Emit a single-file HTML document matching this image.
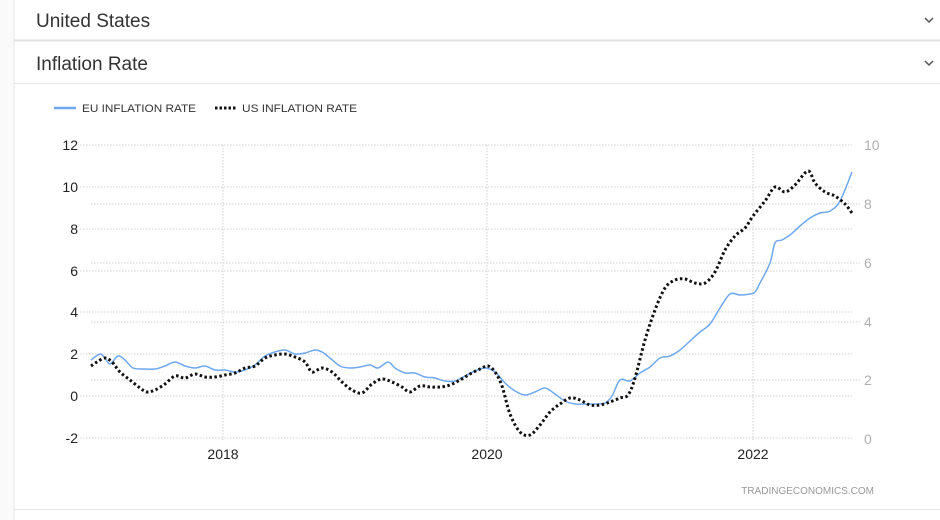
<!DOCTYPE html>
<html><head><meta charset="utf-8"><style>
html,body{margin:0;padding:0;background:#fff;width:940px;height:520px;overflow:hidden;font-family:"Liberation Sans",sans-serif}
</style></head><body>
<svg width="940" height="520" xmlns="http://www.w3.org/2000/svg" style="position:absolute;left:0;top:0">
<rect x="0" y="0" width="14" height="520" fill="#fafafa"/>
<line x1="14" y1="0" x2="14" y2="520" stroke="#e6e6e6"/>
<line x1="14" y1="40.5" x2="940" y2="40.5" stroke="#e2e2e2" stroke-width="2"/>
<line x1="14" y1="83.5" x2="940" y2="83.5" stroke="#e6e6e6"/>
<line x1="14" y1="509.5" x2="940" y2="509.5" stroke="#e6e6e6"/>
<text x="36" y="27" font-size="19" fill="#333">United States</text>
<text x="36" y="70" font-size="19" fill="#333">Inflation Rate</text>
<path d="M925 18 l4 4 l4 -4" stroke="#555" fill="none" stroke-width="1.5"/>
<path d="M925 61 l4 4 l4 -4" stroke="#555" fill="none" stroke-width="1.5"/>
<line x1="54" y1="108" x2="76" y2="108" stroke="#6fa8f0" stroke-width="2.5"/>
<text x="82" y="112" font-size="11" fill="#333" textLength="114" lengthAdjust="spacingAndGlyphs">EU INFLATION RATE</text>
<line x1="215" y1="108" x2="236" y2="108" stroke="#111" stroke-width="3" stroke-dasharray="2.5,2"/>
<text x="242" y="112" font-size="11" fill="#333" textLength="115" lengthAdjust="spacingAndGlyphs">US INFLATION RATE</text>
<g stroke="#d0d0d0" stroke-dasharray="1.5,1.5" stroke-width="1">
<line x1="80" y1="145" x2="852" y2="145"/><line x1="80" y1="187" x2="852" y2="187"/><line x1="80" y1="229" x2="852" y2="229"/><line x1="80" y1="271" x2="852" y2="271"/><line x1="80" y1="312" x2="852" y2="312"/><line x1="80" y1="354" x2="852" y2="354"/><line x1="80" y1="396" x2="852" y2="396"/><line x1="80" y1="438" x2="852" y2="438"/>
<line x1="91" y1="204" x2="860" y2="204"/><line x1="91" y1="263" x2="860" y2="263"/><line x1="91" y1="322" x2="860" y2="322"/><line x1="91" y1="380" x2="860" y2="380"/>
<line x1="223" y1="145" x2="223" y2="440"/><line x1="487" y1="145" x2="487" y2="440"/><line x1="753" y1="145" x2="753" y2="440"/>
</g>
<g font-size="14" fill="#222" text-anchor="end">
<text x="78" y="150">12</text><text x="78" y="192">10</text><text x="78" y="234">8</text><text x="78" y="276">6</text><text x="78" y="317">4</text><text x="78" y="359">2</text><text x="78" y="401">0</text><text x="78" y="443">-2</text>
</g>
<g font-size="14" fill="#b0b0b0">
<text x="864" y="150">10</text><text x="864" y="209">8</text><text x="864" y="268">6</text><text x="864" y="327">4</text><text x="864" y="385">2</text><text x="864" y="444">0</text>
</g>
<g font-size="14" fill="#222" text-anchor="middle">
<text x="223" y="459">2018</text><text x="487" y="459">2020</text><text x="753" y="459">2022</text>
</g>
<text x="874" y="494" font-size="10" fill="#999" text-anchor="end">TRADINGECONOMICS.COM</text>
<path id="eu" fill="none" stroke="#6fa8f0" stroke-width="1.5"/>
<path id="us" fill="none" stroke="#111" stroke-width="3" stroke-dasharray="2.5,2.5"/>
</svg>
<script>
function sm(p){var d="M"+p[0]+" "+p[1];var n=p.length/2;for(var i=0;i<n-1;i++){var x0=p[2*Math.max(i-1,0)],y0=p[2*Math.max(i-1,0)+1],x1=p[2*i],y1=p[2*i+1],x2=p[2*i+2],y2=p[2*i+3],j=Math.min(i+2,n-1),x3=p[2*j],y3=p[2*j+1];d+=" C"+(x1+(x2-x0)/6).toFixed(1)+" "+(y1+(y2-y0)/6).toFixed(1)+" "+(x2-(x3-x1)/6).toFixed(1)+" "+(y2-(y3-y1)/6).toFixed(1)+" "+x2+" "+y2;}return d;}
var eu=[91,360,100,354,105,358,110,364,118,356,125,360,133,368,145,369,155,369,165,366,175,362,185,366,195,368,205,366,215,370,225,370,235,372,245,370,255,365,265,356,275,352,285,350,295,354,305,353,315,350,322,352,330,358,340,366,350,368,360,367,370,365,378,368,388,362,395,368,405,373,415,373,425,377,435,378,445,381,455,381,465,376,475,371,485,368,495,372,505,383,515,391,525,395,535,392,545,388,555,394,565,401,575,404,585,404,595,404,605,403,612,396,620,380,630,381,640,373,650,367,660,358,670,356,680,350,690,341,700,332,710,324,720,308,730,294,740,295,750,294,755,292,760,283,770,263,775,243,782,240,790,235,800,226,810,218,820,213,830,211,840,201,852,172];
var us=[91,366,97,362,105,358,112,362,120,372,130,380,140,388,147,392,155,390,165,384,175,376,185,378,195,374,205,377,215,377,225,375,235,373,245,368,255,366,265,358,275,355,285,354,295,357,305,362,312,372,322,368,332,372,342,382,352,390,362,393,372,384,382,379,392,382,402,387,410,392,420,386,430,387,440,387,450,385,460,380,470,374,480,369,488,366,495,372,502,386,510,414,520,432,530,435,540,425,550,412,560,404,570,398,580,400,590,405,600,405,610,402,620,398,628,395,635,378,645,340,655,310,665,288,675,280,685,279,695,283,705,283,715,272,725,250,735,236,745,228,753,216,765,201,775,187,785,192,795,185,808,171,815,183,825,192,835,196,845,204,852,213];
document.getElementById("eu").setAttribute("d",sm(eu));
document.getElementById("us").setAttribute("d",sm(us));
</script>
</body></html>
